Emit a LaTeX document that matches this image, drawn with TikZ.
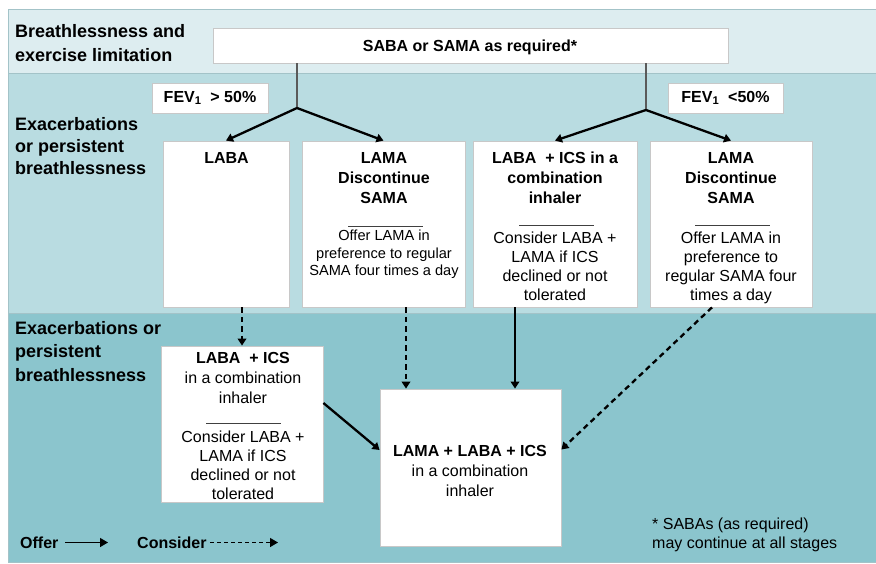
\documentclass[tikz,border=0pt]{standalone}
\usepackage{fontspec}
\setmainfont{Liberation Sans}
\usetikzlibrary{arrows.meta,calc}
\definecolor{bandA}{HTML}{DDEDF0}
\definecolor{bandB}{HTML}{B9DCE1}
\definecolor{bandC}{HTML}{8BC5CD}
\definecolor{bandline}{HTML}{A3C3C8}
\definecolor{boxline}{HTML}{C8C8C8}
\definecolor{stemgrey}{HTML}{5A5A5A}
\tikzset{
  panel/.style={draw=boxline, fill=white, line width=0.8pt, inner sep=0pt},
  lbl/.style={font=\bfseries\fontsize{18}{23}\selectfont, align=left, anchor=north west, inner sep=0pt},
  boldtxt/.style={font=\bfseries\fontsize{16}{20}\selectfont, align=center, anchor=north, inner sep=0pt},
  regtxt/.style={font=\fontsize{16}{19}\selectfont, align=center, anchor=north, inner sep=0pt},
  smalltxt/.style={font=\fontsize{14.6}{17.5}\selectfont, align=center, anchor=north, inner sep=0pt},
  seprule/.style={line width=0.8pt, draw=black!75},
  stem/.style={draw=stemgrey, line width=1.2pt},
  offerarrow/.style={draw=black, line width=2.3pt, -{Triangle[length=7pt,width=8.5pt]}},
  considerarrow/.style={offerarrow, dash pattern=on 5.5pt off 4pt},
  legoffer/.style={draw=black, line width=1.4pt, -{Triangle[length=8pt,width=9pt]}},
  legconsider/.style={legoffer, dash pattern=on 4pt off 3pt},
}
\begin{document}
\begin{tikzpicture}[x=1pt,y=-1pt]
\useasboundingbox (0,0) rectangle (876,564);
% bands
\path[fill=bandA, draw=bandline, line width=1pt] (8,10) rectangle (876,74);
\path[fill=bandB, draw=bandline, line width=1pt] (8,74) rectangle (876,313);
\path[fill=bandC, draw=bandline, line width=1pt] (8,313) rectangle (876,562);

% row labels
\node[lbl, font=\bfseries\fontsize{18}{24}\selectfont] (lab1) at (15,24) {Breathlessness and\\exercise limitation};
\node[lbl, font=\bfseries\fontsize{18}{22}\selectfont] (lab2) at (15,117) {Exacerbations\\or persistent\\breathlessness};
\node[lbl, font=\bfseries\fontsize{18}{23.5}\selectfont] (lab3) at (15,321) {Exacerbations or\\persistent\\breathlessness};

% top box
\node[panel, minimum width=515pt, minimum height=35pt] (top) at (470.5,45.5) {};
\node[font=\bfseries\fontsize{16}{20}\selectfont, inner sep=0pt] (toptxt) at (470,47) {SABA or SAMA as required*};

% FEV boxes
\node[panel, minimum width=116pt, minimum height=30pt, font=\bfseries\fontsize{16}{20}\selectfont] (fevA) at (210,98) {FEV\textsubscript{1}\ \ > 50\%};
\node[panel, minimum width=115pt, minimum height=30pt, font=\bfseries\fontsize{16}{20}\selectfont] (fevB) at (725.5,98) {FEV\textsubscript{1}\ \ <50\%};

% row 2 boxes
\node[panel, minimum width=126pt, minimum height=166pt] (b1) at (226,224) {};
\node[panel, minimum width=163pt, minimum height=166pt] (b2) at (383.5,224) {};
\node[panel, minimum width=164pt, minimum height=166pt] (b3) at (555,224) {};
\node[panel, minimum width=162pt, minimum height=166pt] (b4) at (731,224) {};

\node[boldtxt] (b1t) at (226.5,152) {LABA};
\node[boldtxt] (b2t) at (384,152) {LAMA\\Discontinue\\SAMA};
\draw[seprule] (348,226) -- (423,226);
\node[smalltxt] (b2r) at (384,230) {Offer LAMA in\\preference to regular\\SAMA four times a day};

\node[boldtxt] (b3t) at (555,152) {LABA\ \ + ICS in a\\combination\\inhaler};
\draw[seprule] (519,225) -- (594,225);
\node[regtxt] (b3r) at (555,232) {Consider LABA +\\LAMA if ICS\\declined or not\\tolerated};

\node[boldtxt] (b4t) at (731,152) {LAMA\\Discontinue\\SAMA};
\draw[seprule] (695,225) -- (770,225);
\node[regtxt] (b4r) at (731,232) {Offer LAMA in\\preference to\\regular SAMA four\\times a day};

% row 3 boxes
\node[panel, minimum width=162pt, minimum height=156pt] (c1) at (242,424) {};
\node[panel, minimum width=181pt, minimum height=157pt] (c2) at (470.5,467.5) {};

\node[regtxt, font=\fontsize{16}{20}\selectfont] (c1t) at (243,352) {\textbf{LABA\ \ + ICS}\\in a combination\\inhaler};
\draw[seprule] (206,423) -- (281,423);
\node[regtxt] (c1r) at (243,431) {Consider LABA +\\LAMA if ICS\\declined or not\\tolerated};

\node[regtxt, font=\fontsize{16}{20}\selectfont] (c2t) at (470,445) {\textbf{LAMA + LABA + ICS}\\in a combination\\inhaler};

% connectors from top box
\coordinate (s1) at (297,108);
\coordinate (s2) at (646,110);
\draw[stem] (top.south -| s1) -- (s1);
\draw[stem] (top.south -| s2) -- (s2);
\draw[offerarrow] (s1) -- (b1.north);
\draw[offerarrow] (s1) -- (b2.north);
\draw[offerarrow] (s2) -- (b3.north);
\draw[offerarrow] (s2) -- (b4.north);

% connectors to row 3
\coordinate (x2) at (406,0);
\coordinate (x3) at (515,0);
\coordinate (x4) at (712,0);
\draw[considerarrow] (b1.south -| c1.north) -- (c1.north);
\draw[considerarrow] (b2.south -| x2) -- (c2.north -| x2);
\draw[offerarrow] (b3.south -| x3) -- (c2.north -| x3);
\draw[considerarrow] (b4.south -| x4) -- ($(c2.east)+(0,-18)$);
\draw[offerarrow] ($(c1.east)+(0,-21)$) -- ($(c2.west)+(0,-17.5)$);

% legend
\node[font=\bfseries\fontsize{16}{20}\selectfont, anchor=base west, inner sep=0pt] (offer) at (20,548) {Offer};
\node[font=\bfseries\fontsize{16}{20}\selectfont, anchor=base west, inner sep=0pt] (consider) at (137,548) {Consider};
\coordinate (la1) at (65,542.5);
\coordinate (la2) at (108,542.5);
\coordinate (lb1) at (210,542.5);
\coordinate (lb2) at (278,542.5);
\draw[legoffer] (la1) -- (la2);
\draw[legconsider] (lb1) -- (lb2);

% footnote
\node[font=\fontsize{16}{18.5}\selectfont, align=left, anchor=north west, inner sep=0pt] (foot) at (652,518) {* SABAs (as required)\\may continue at all stages};
\end{tikzpicture}
\end{document}
